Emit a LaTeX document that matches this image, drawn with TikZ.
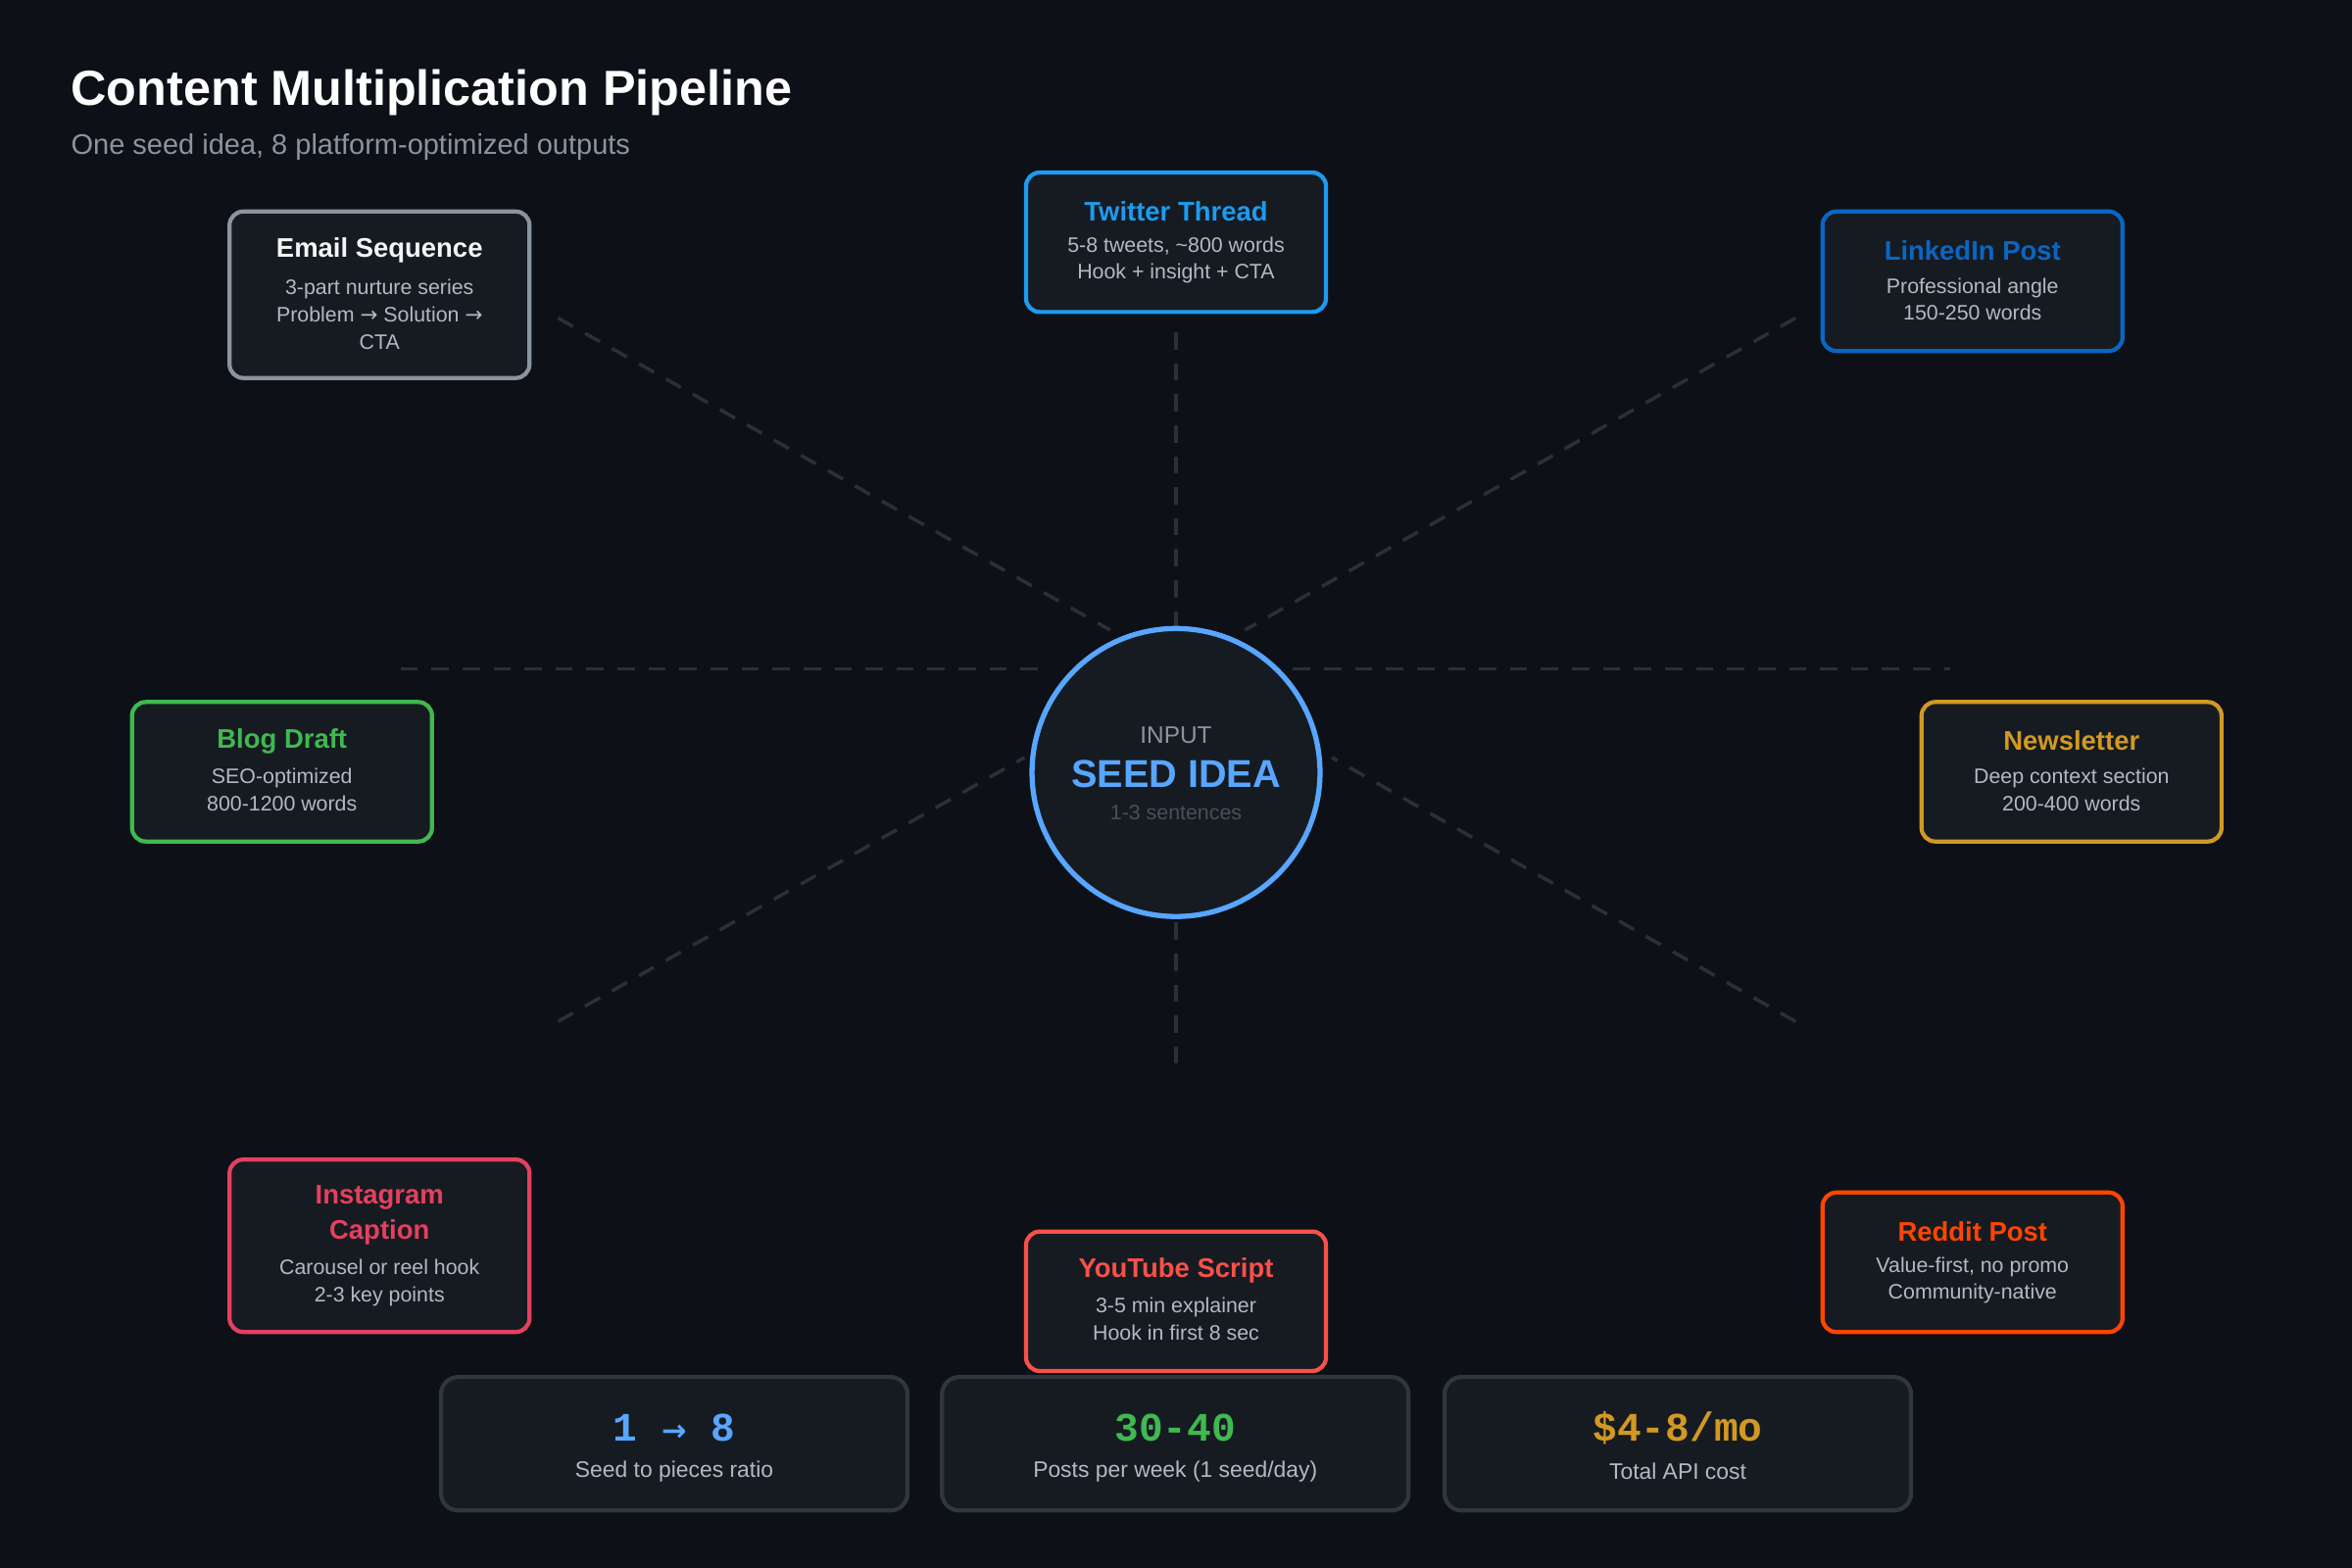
\documentclass[tikz,border=0pt]{standalone}
\usepackage{fontspec}
\setmainfont{Liberation Sans}
\newfontfamily\monof{Liberation Mono}
\newfontfamily\arrf{DejaVu Sans}
\newcommand{\fs}[1]{\pgfmathsetmacro\fsz{#1*0.434}\pgfmathsetmacro\fsl{#1*0.564}\fontsize{\fsz pt}{\fsl pt}\selectfont}
\newcommand{\ar}{{\arrf →}}
\definecolor{bg}{HTML}{0D1117}
\definecolor{card}{HTML}{161B22}
\definecolor{cardb}{HTML}{30363D}
\definecolor{txt}{HTML}{B1BAC4}
\definecolor{dim}{HTML}{8B949E}
\definecolor{dimmer}{HTML}{484F58}
\definecolor{cemail}{HTML}{8B949E}
\definecolor{ctw}{HTML}{1D9BF0}
\definecolor{cli}{HTML}{0A66C2}
\definecolor{cblog}{HTML}{3FB950}
\definecolor{cnews}{HTML}{D29922}
\definecolor{cig}{HTML}{E4405F}
\definecolor{cyt}{HTML}{F85149}
\definecolor{crd}{HTML}{FF4500}
\definecolor{cseed}{HTML}{58A6FF}
\definecolor{line}{HTML}{2A3038}
\begin{document}
\begin{tikzpicture}[x=0.015306cm,y=-0.015306cm,
  box/.style={draw=#1,line width=1.2pt,fill=card,rounded corners=4pt,minimum width=200*0.015306cm,inner sep=0pt},
  ttl/.style={font=\fs{18}\bfseries,text=#1},
  sub/.style={font=\fs{14},text=txt,align=center},
  conn/.style={draw=line,line width=1pt,dash pattern=on 5pt off 4pt},
  stat/.style={draw=cardb,line width=1.2pt,fill=card,rounded corners=5pt,minimum width=311*0.015306cm,minimum height=89*0.015306cm}]
\fill[bg] (0,0) rectangle (1568,1045);
\useasboundingbox (0,0) rectangle (1568,1045);
\node[anchor=base west,inner sep=0pt,font=\fs{33}\bfseries,text=white] (title) at (47,70) {Content Multiplication Pipeline};
\node[anchor=base west,inner sep=0pt,font=\fs{19},text=dim] (subt) at (47,103) {One seed idea, 8 platform-optimized outputs};
% connectors
\coordinate (u1) at (784,419); \coordinate (u2) at (784,215);
\coordinate (d1) at (784,615); \coordinate (d2) at (784,716);
\coordinate (l1) at (267,446); \coordinate (l2) at (700,446);
\coordinate (r1) at (862,446); \coordinate (r2) at (1300,446);
\coordinate (a1) at (372,212); \coordinate (a2) at (740,420);
\coordinate (b1) at (1197,212); \coordinate (b2) at (830,420);
\coordinate (c1) at (372,681); \coordinate (c2) at (683,505);
\coordinate (e1) at (1197,681); \coordinate (e2) at (888,505);
\foreach \p/\q in {u1/u2,d1/d2,l1/l2,r1/r2,a1/a2,b1/b2,c1/c2,e1/e2} \draw[conn] (\p)--(\q);
% seed
\node[circle,draw=cseed,line width=1.5pt,fill=card,minimum size=192*0.015306cm] (seed) at (784,515) {};
\node[font=\fs{16},text=dim] (inp) at (784,490) {INPUT};
\node[font=\fs{26}\bfseries,text=cseed] (sd) at (784,516) {SEED IDEA};
\node[font=\fs{14},text=dimmer] (sen) at (784,542) {1-3 sentences};
% boxes
\node[box=cemail,minimum height=111*0.015306cm] (email) at (253,196.5) {};
\node[ttl=white!90!dim] at (253,167) {Email Sequence};
\node[sub] at (253,209.5) {3-part nurture series\\Problem \ar{} Solution \ar{}\\CTA};
\node[box=ctw,minimum height=93*0.015306cm] (tw) at (784,161.5) {};
\node[ttl=ctw] at (784,141) {Twitter Thread};
\node[sub] at (784,173.5) {5-8 tweets, \textasciitilde800 words\\Hook + insight + CTA};
\node[box=cli,minimum height=93*0.015306cm] (li) at (1315,187.5) {};
\node[ttl=cli] at (1315,167) {LinkedIn Post};
\node[sub] at (1315,199.5) {Professional angle\\150-250 words};
\node[box=cblog,minimum height=93*0.015306cm] (blog) at (188,514.5) {};
\node[ttl=cblog] at (188,494) {Blog Draft};
\node[sub] at (188,526.5) {SEO-optimized\\800-1200 words};
\node[box=cnews,minimum height=93*0.015306cm] (news) at (1381,514.5) {};
\node[ttl=cnews] at (1381,494) {Newsletter};
\node[sub] at (1381,526.5) {Deep context section\\200-400 words};
\node[box=cig,minimum height=115*0.015306cm] (ig) at (253,830.5) {};
\node[ttl=cig,align=center] at (253,810) {Instagram\\Caption};
\node[sub] at (253,855) {Carousel or reel hook\\2-3 key points};
\node[box=cyt,minimum height=93*0.015306cm] (yt) at (784,867.5) {};
\node[ttl=cyt] at (784,847) {YouTube Script};
\node[sub] at (784,879.5) {3-5 min explainer\\Hook in first 8 sec};
\node[box=crd,minimum height=93*0.015306cm] (rd) at (1315,841.5) {};
\node[ttl=crd] at (1315,821) {Reddit Post};
\node[sub] at (1315,853.5) {Value-first, no promo\\Community-native};
% stats
\node[stat] (s1) at (449.5,962.5) {};
\node[stat] (s2) at (783.5,962.5) {};
\node[stat] (s3) at (1118.5,962.5) {};
\node[font=\fs{27}\monof\bfseries,text=cseed] at (449.5,952) {1 {\arrf\bfseries\fs{20}→} 8};
\node[font=\fs{27}\monof\bfseries,text=cblog] at (783.5,952) {30-40};
\node[font=\fs{27}\monof\bfseries,text=cnews] at (1118.5,952) {\$4-8/mo};
\node[font=\fs{15},text=txt] at (449.5,981) {Seed to pieces ratio};
\node[font=\fs{15},text=txt] at (783.5,981) {Posts per week (1 seed/day)};
\node[font=\fs{15},text=txt] at (1118.5,981) {Total API cost};
\end{tikzpicture}
\end{document}
